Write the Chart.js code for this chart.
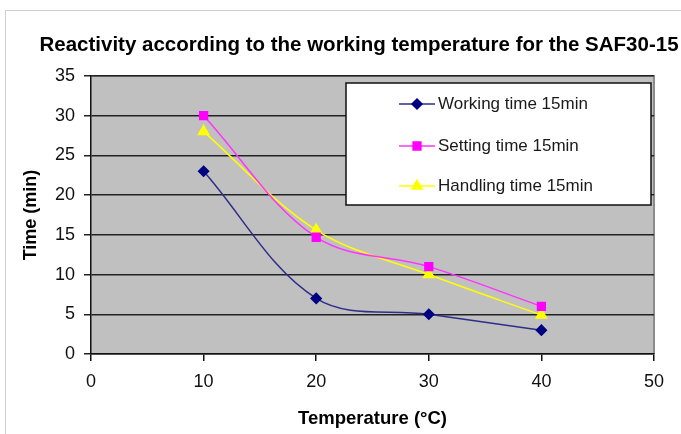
<!DOCTYPE html>
<html>
<head>
<meta charset="utf-8">
<title>SAF30-15 reactivity</title>
<script src="https://cdn.jsdelivr.net/npm/chart.js@4/dist/chart.umd.min.js"></script>
<style>
  body { margin: 0; background: #fff; }
  #wrap { width: 681px; height: 434px; position: relative; }
</style>
</head>
<body>
<div id="wrap"><canvas id="myChart"></canvas></div>
<script>
// values
var temperatures = [10, 20, 30, 40];
var workingTime  = [23, 7, 5, 3];
var settingTime  = [30, 14.7, 11, 6];
var handlingTime = [28, 15.6, 10, 4.9];
var seriesNames  = ['Working time 15min', 'Setting time 15min', 'Handling time 15min'];
var chartTitle   = 'Reactivity according to the working temperature for the SAF30-15';

function pts(ys) {
	return temperatures.map(function (t, i) { return { x: t, y: ys[i] }; });
}

var FONT = '"Liberation Sans", Arial, sans-serif';

// plot background, outer frame, title, legend box inside the plot
var decor = {
	id: 'decor',
	beforeDraw: function (chart) {
		var ctx = chart.ctx, a = chart.chartArea;
		ctx.save();
		ctx.fillStyle = '#fff';
		ctx.fillRect(0, 0, chart.width, chart.height);
		ctx.strokeStyle = '#d0d0d0';
		ctx.lineWidth = 1;
		ctx.strokeRect(5.5, 10.5, chart.width - 3, chart.height);
		ctx.fillStyle = '#c0c0c0';
		ctx.fillRect(a.left, a.top, a.right - a.left, a.bottom - a.top);
		ctx.strokeStyle = '#8c8c8c';
		ctx.lineWidth = 2;
		ctx.beginPath();
		ctx.moveTo(a.left, a.top);
		ctx.lineTo(a.right, a.top);
		ctx.lineTo(a.right, a.bottom);
		ctx.stroke();
		ctx.fillStyle = '#000';
		ctx.font = 'bold 20.5px ' + FONT;
		ctx.textAlign = 'center';
		ctx.textBaseline = 'middle';
		ctx.fillText(chartTitle, 359, 45);
		ctx.restore();
	},
	afterDraw: function (chart) {
		var ctx = chart.ctx;
		var bx = 346, by = 83, bw = 305, bh = 122;
		ctx.save();
		ctx.fillStyle = '#fff';
		ctx.fillRect(bx, by, bw, bh);
		ctx.strokeStyle = '#111';
		ctx.lineWidth = 1.5;
		ctx.strokeRect(bx, by, bw, bh);
		var rows = [104, 146, 186];
		chart.data.datasets.forEach(function (ds, i) {
			var y = rows[i];
			ctx.strokeStyle = ds.borderColor;
			ctx.lineWidth = 1.5;
			ctx.beginPath();
			ctx.moveTo(399, y);
			ctx.lineTo(435, y);
			ctx.stroke();
			ctx.fillStyle = ds.pointBackgroundColor;
			ctx.strokeStyle = ds.pointBorderColor;
			Chart.helpers.drawPoint(ctx, {
				pointStyle: ds.pointStyle,
				radius: ds.pointRadius,
				rotation: 0,
				borderWidth: 1
			}, 417, y);
			ctx.fillStyle = '#1a1a1a';
			ctx.font = '17px ' + FONT;
			ctx.textBaseline = 'middle';
			ctx.textAlign = 'left';
			ctx.fillText(ds.label, 438, y);
		});
		ctx.restore();
	}
};

var ctx = document.getElementById('myChart').getContext('2d');
window.chart = new Chart(ctx, {
	type: 'line',
	data: {
		datasets: [{
			label: seriesNames[0],
			data: pts(workingTime),
			borderColor: '#2e2e8a',
			borderWidth: 1.5,
			pointStyle: 'rectRot',
			pointRadius: 5,
			pointBackgroundColor: '#000080',
			pointBorderColor: '#000080',
			tension: 0.35
		}, {
			label: seriesNames[1],
			data: pts(settingTime),
			borderColor: '#ff33ff',
			borderWidth: 1.5,
			pointStyle: 'rect',
			pointRadius: 5.5,
			pointBackgroundColor: '#ff00ff',
			pointBorderColor: '#ff00ff',
			tension: 0.35
		}, {
			label: seriesNames[2],
			data: pts(handlingTime),
			borderColor: '#ffff00',
			borderWidth: 1.5,
			pointStyle: 'triangle',
			pointRadius: 6,
			pointBackgroundColor: '#ffff00',
			pointBorderColor: '#ffff00',
			tension: 0.35
		}]
	},
	options: {
		responsive: true,
		maintainAspectRatio: false,
		animation: false,
		events: [],
		layout: { padding: { left: 16, right: 27, top: 76, bottom: 0 } },
		plugins: {
			legend: { display: false },
			tooltip: { enabled: false },
			title: { display: false }
		},
		scales: {
			x: {
				type: 'linear',
				min: 0,
				max: 50,
				ticks: { stepSize: 10, color: '#111', font: { family: FONT, size: 18 }, padding: 10 },
				grid: { drawOnChartArea: false, drawTicks: true, tickLength: 7, color: '#111', lineWidth: 1.5 },
				border: { color: '#111', width: 1.5 },
				title: { display: true, text: 'Temperature (°C)', color: '#000', font: { family: FONT, size: 18.5, weight: 'bold' }, padding: { top: 10 } },
				afterFit: function (s) { s.height = 80; }
			},
			y: {
				min: 0,
				max: 35,
				ticks: { stepSize: 5, color: '#111', font: { family: FONT, size: 18 }, padding: 9 },
				grid: { color: '#222', lineWidth: 1.5, tickLength: 7 },
				border: { color: '#111', width: 1.5 },
				title: { display: true, text: 'Time (min)', color: '#000', font: { family: FONT, size: 18, weight: 'bold' }, padding: { bottom: 4 } },
				afterFit: function (s) { s.width = 75; }
			}
		}
	},
	plugins: [decor]
});
</script>
</body>
</html>
